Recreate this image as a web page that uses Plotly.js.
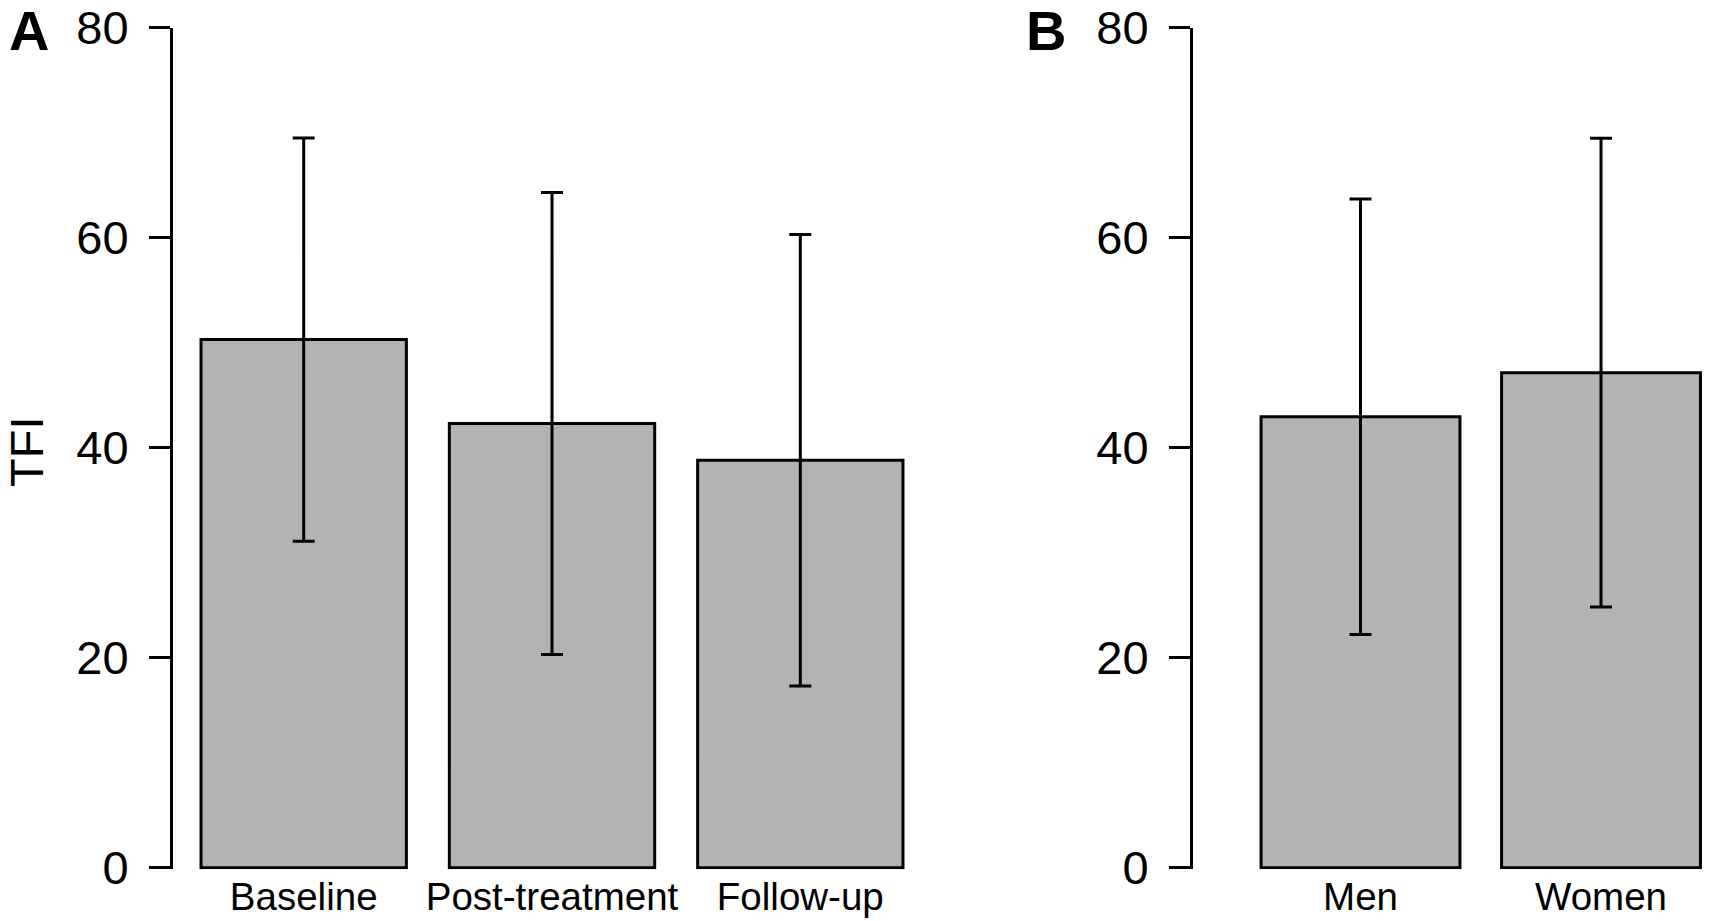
<!DOCTYPE html>
<html>
<head>
<meta charset="utf-8">
<script src="https://cdn.plot.ly/plotly-3.0.1.min.js"></script>
<style>
  html, body { margin: 0; padding: 0; background: #ffffff; }
  #chart { width: 1709px; height: 921px; }
</style>
</head>
<body>
<div id="chart"></div>
<script>
// ---- data ----
const categoriesA = ['Baseline', 'Post-treatment', 'Follow-up'];
const meansA = [50.3, 42.3, 38.8];
const sdA = [19.2, 22.0, 21.5];

const categoriesB = ['Men', 'Women'];
const meansB = [42.95, 47.15];
const sdB = [20.74, 22.32];

const yTickVals = [0, 20, 40, 60, 80];
const yTickText = ['0', '20', '40', '60', '80'];
const yTitle = 'TFI';
const panelLabels = ['A', 'B'];

// ---- styling ----
const FONT = 'Liberation Sans, Arial, Helvetica, sans-serif';
const W = 1709, H = 921;
const barFill = '#b3b3b3';

function barTrace(cats, means, sds, xa, ya) {
  return {
    type: 'bar',
    x: cats,
    y: means,
    xaxis: xa,
    yaxis: ya,
    marker: { color: barFill, line: { color: '#000000', width: 3 } },
    error_y: { type: 'data', array: sds, visible: true, color: '#000000', thickness: 3, width: 11 },
    hoverinfo: 'x+y',
    showlegend: false
  };
}

const data = [
  barTrace(categoriesA, meansA, sdA, 'x', 'y'),
  barTrace(categoriesB, meansB, sdB, 'x2', 'y2')
];

// pixel geometry -> paper fractions
const yBottomPx = 869.3, yTopPx = 27.7;
const yDomain = [(H - yBottomPx) / H, (H - yTopPx) / H];

function yAxis(anchor) {
  return {
    anchor: anchor,
    domain: yDomain,
    range: [-0.15, 80],
    tickmode: 'array',
    tickvals: yTickVals,
    ticktext: yTickText,
    ticks: 'outside',
    ticklen: 21,
    tickwidth: 3,
    tickcolor: '#000000',
    showline: true,
    linewidth: 3,
    linecolor: '#000000',
    showgrid: false,
    zeroline: false,
    tickfont: { family: FONT, size: 47, color: '#000000' },
    ticklabelstandoff: 11,
    fixedrange: true
  };
}

function xAxis(anchor, domainPx, range) {
  return {
    anchor: anchor,
    type: 'category',
    domain: [domainPx[0] / W, domainPx[1] / W],
    range: range,
    showline: false,
    ticks: '',
    showgrid: false,
    zeroline: false,
    tickfont: { family: FONT, size: 38.5, color: '#000000' },
    ticklabelstandoff: 1,
    fixedrange: true
  };
}

const layout = {
  width: W,
  height: H,
  margin: { l: 0, r: 0, t: 0, b: 0, pad: 0 },
  paper_bgcolor: '#ffffff',
  plot_bgcolor: '#ffffff',
  bargap: 0.173,
  showlegend: false,
  font: { family: FONT, color: '#000000' },
  xaxis: xAxis('y', [173, 930], [-0.5264, 2.5223]),
  yaxis: yAxis('x'),
  xaxis2: xAxis('y2', [1193, 1709], [-0.6965, 1.449]),
  yaxis2: yAxis('x2'),
  annotations: [
    { text: panelLabels[0], xref: 'paper', yref: 'paper', x: 28.5 / W, y: (H - 30) / H,
      xanchor: 'center', yanchor: 'middle', showarrow: false,
      font: { family: FONT, size: 56, color: '#000000', weight: 'bold' } },
    { text: panelLabels[1], xref: 'paper', yref: 'paper', x: 1046 / W, y: (H - 30) / H,
      xanchor: 'center', yanchor: 'middle', showarrow: false,
      font: { family: FONT, size: 56, color: '#000000', weight: 'bold' } },
    { text: yTitle, xref: 'paper', yref: 'paper', x: 26 / W, y: (H - 452) / H,
      xanchor: 'center', yanchor: 'middle', textangle: -90, showarrow: false,
      font: { family: FONT, size: 47, color: '#000000' } }
  ]
};

Plotly.newPlot('chart', data, layout, { displayModeBar: false, staticPlot: false });
</script>
</body>
</html>
